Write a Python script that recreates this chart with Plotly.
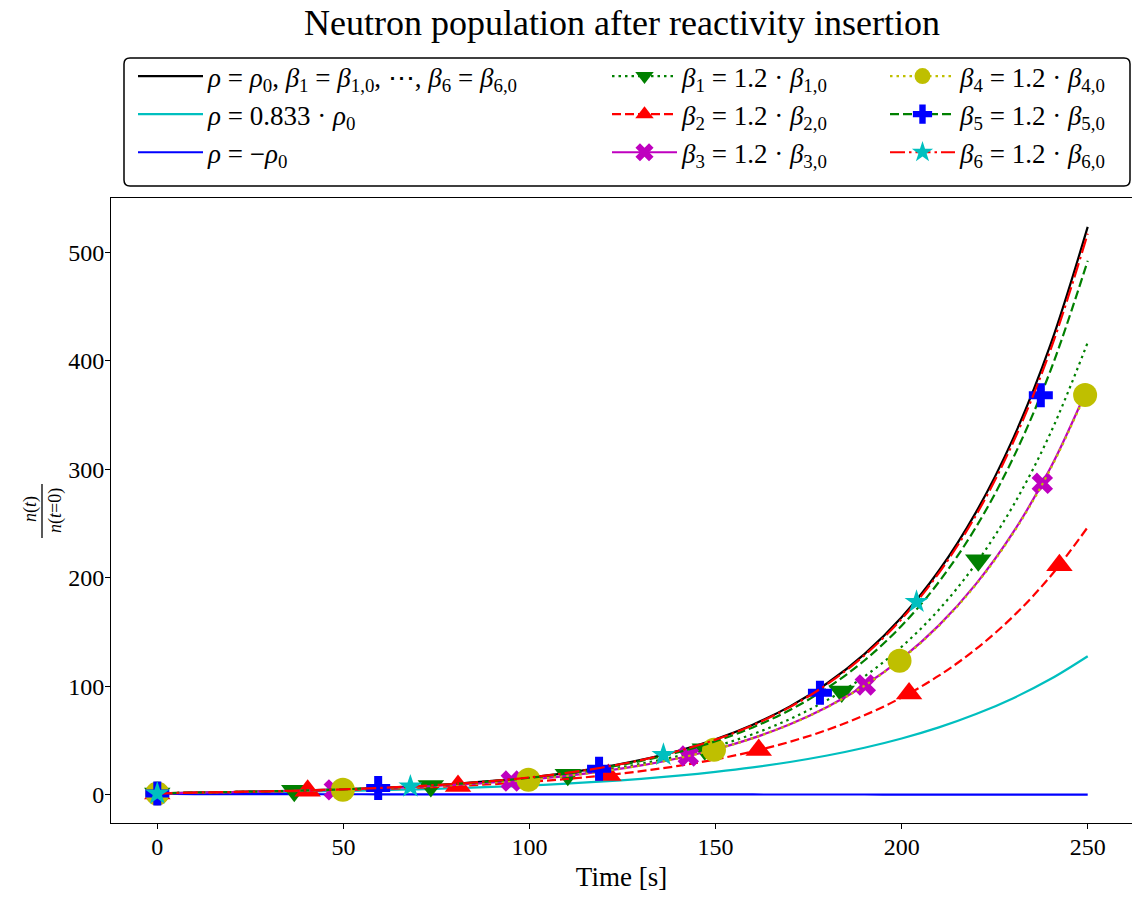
import plotly.graph_objects as go

# Relative neutron population n(t)/n(t=0), sampled every 10 s
t = [0, 10, 20, 30, 40, 50, 60, 70, 80, 90, 100, 110, 120, 130, 140, 150,
     160, 170, 180, 190, 200, 210, 220, 230, 240, 250]

n_ref = [1.0, 1.97, 2.48, 3.13, 3.96, 4.99, 6.30, 7.95, 10.03, 12.66, 15.97, 20.16,
         25.43, 32.10, 40.50, 51.11, 64.50, 81.39, 102.70, 129.60, 163.54, 206.37,
         260.42, 328.62, 414.69, 523.30]
n_rho083 = [1.0, 1.68, 2.01, 2.41, 2.88, 3.45, 4.14, 4.95, 5.93, 7.11, 8.51, 10.20,
            12.21, 14.63, 17.52, 20.99, 25.14, 30.12, 36.07, 43.21, 51.76, 61.99,
            74.26, 88.95, 106.54, 127.62]
n_rhoneg = [1.0, 0.52, 0.48, 0.45, 0.42, 0.39, 0.37, 0.34, 0.32, 0.30, 0.28, 0.26,
            0.24, 0.23, 0.21, 0.20, 0.19, 0.17, 0.16, 0.15, 0.14, 0.13, 0.12, 0.11,
            0.10, 0.10]
n_b1 = [1.0, 1.95, 2.44, 3.05, 3.81, 4.77, 5.96, 7.46, 9.33, 11.66, 14.58, 18.23,
        22.80, 28.51, 35.65, 44.58, 55.75, 69.71, 87.17, 109.01, 136.31, 170.45,
        213.14, 266.52, 333.27, 416.74]
n_b2 = [1.0, 1.91, 2.34, 2.86, 3.51, 4.29, 5.26, 6.44, 7.88, 9.65, 11.82, 14.47,
        17.72, 21.70, 26.57, 32.54, 39.84, 48.78, 59.73, 73.14, 89.56, 109.66,
        134.28, 164.42, 201.33, 246.53]
n_b3 = [1.0, 1.94, 2.42, 3.01, 3.75, 4.67, 5.82, 7.24, 9.02, 11.23, 13.98, 17.41,
        21.68, 26.99, 33.61, 41.85, 52.12, 64.89, 80.81, 100.62, 125.29, 156.01,
        194.27, 241.91, 301.22, 375.08]
n_b4 = [1.0, 1.94, 2.42, 3.01, 3.75, 4.67, 5.81, 7.24, 9.01, 11.20, 13.97, 17.39,
        21.65, 26.96, 33.56, 41.78, 52.02, 64.76, 80.63, 100.38, 124.97, 155.59,
        193.69, 241.13, 300.20, 373.70]
n_b5 = [1.0, 1.96, 2.47, 3.11, 3.92, 4.93, 6.21, 7.81, 9.83, 12.38, 15.58, 19.62,
        24.69, 31.09, 39.13, 49.26, 62.00, 78.05, 98.25, 123.68, 155.69, 195.98,
        246.70, 310.54, 390.91, 492.08]
n_b6 = [1.0, 1.97, 2.48, 3.13, 3.95, 4.98, 6.28, 7.92, 9.99, 12.60, 15.90, 20.05,
        25.29, 31.90, 40.23, 50.74, 64.00, 80.72, 101.81, 128.42, 161.97, 204.29,
        257.67, 325.00, 409.92, 517.03]

# Marker positions along the perturbed-beta curves
mk_t_b1 = [0, 36.8, 73.5, 110.3, 147.1, 183.9, 220.6]
mk_n_b1 = [1.0, 3.55, 8.06, 18.36, 41.8, 95.1, 216.0]
mk_t_b2 = [0, 40.4, 80.8, 121.2, 161.6, 202.0, 242.4]
mk_n_b2 = [1.0, 3.54, 8.01, 18.16, 41.15, 93.26, 211.4]
mk_t_b3 = [0, 47.56, 95.12, 142.68, 190.24, 237.8]
mk_n_b3 = [1.0, 4.43, 12.56, 35.65, 101.15, 287.0]
mk_t_b4 = [0, 49.86, 99.72, 149.58, 199.44, 249.3]
mk_n_b4 = [1.0, 4.64, 13.85, 41.34, 123.4, 368.3]
mk_t_b5 = [0, 59.35, 118.7, 178.05, 237.4]
mk_n_b5 = [1.0, 6.11, 23.97, 93.94, 368.2]
mk_t_b6 = [0, 68.0, 136.0, 204.0]
mk_n_b6 = [1.0, 7.56, 36.66, 177.7]

x_ticks = [0, 50, 100, 150, 200, 250]
y_ticks = [0, 100, 200, 300, 400, 500]

SERIF = "Liberation Serif"
W, H = 1132, 898
ML, MR, MT, MB = 111, 0, 198, 75
PW, PH = W - ML - MR, H - MT - MB


def px_x(x):
    return (x - ML) / PW


def px_y(y):
    return (H - MB - y) / PH


def b(i):
    return f"<i>β</i><sub>{i}</sub> = 1.2 · <i>β</i><sub>{i},0</sub>"


def gapped(xs, ys):
    gx, gy = [], []
    for a, c in zip(xs, ys):
        gx += [a, None]
        gy += [c, None]
    return gx, gy


LW = 2.2
DASH = "9px,4px"
DOT = "2.5px,4px"
DASHDOT = "15px,4px,2.5px,4px"

fig = go.Figure()

plain = [
    (n_ref, "black",
     "<i>ρ</i> = <i>ρ</i><sub>0</sub>, <i>β</i><sub>1</sub> = <i>β</i><sub>1,0</sub>, ⋯, "
     "<i>β</i><sub>6</sub> = <i>β</i><sub>6,0</sub>"),
    (n_rho083, "#00bfbf", "<i>ρ</i> = 0.833 · <i>ρ</i><sub>0</sub>"),
    (n_rhoneg, "#0000ff", "<i>ρ</i> = −<i>ρ</i><sub>0</sub>"),
]
for k, (ys, col, name) in enumerate(plain):
    fig.add_trace(go.Scatter(
        x=t, y=ys, mode="lines", name=name, legend="legend",
        legendgroup=f"p{k}", line=dict(color=col, width=LW, shape="spline"),
    ))

# (values, marker t, marker n, line colour, dash, symbol, size, marker colour, index)
betas = [
    (n_b1, mk_t_b1, mk_n_b1, "#008000", DOT, "triangle-down", 23, "#008000", 1),
    (n_b2, mk_t_b2, mk_n_b2, "#ff0000", DASH, "triangle-up", 23, "#ff0000", 2),
    (n_b3, mk_t_b3, mk_n_b3, "#bf00bf", "solid", "x", 19, "#bf00bf", 3),
    (n_b4, mk_t_b4, mk_n_b4, "#bfbf00", DOT, "circle", 24, "#bfbf00", 4),
    (n_b5, mk_t_b5, mk_n_b5, "#008000", DASH, "cross", 20, "#0000ff", 5),
    (n_b6, mk_t_b6, mk_n_b6, "#ff0000", DASHDOT, "star", 18, "#00bfbf", 6),
]
for ys, mt, mn, col, dash, sym, size, mcol, i in betas:
    leg = "legend2" if i <= 3 else "legend3"
    fig.add_trace(go.Scatter(
        x=t, y=ys, mode="lines", showlegend=False, legendgroup=f"b{i}",
        line=dict(color=col, width=LW, dash=dash, shape="spline"),
        hoverinfo="skip",
    ))
    gx, gy = gapped(mt, mn)
    fig.add_trace(go.Scatter(
        x=gx, y=gy, mode="lines+markers", name=b(i), legend=leg,
        legendgroup=f"b{i}", connectgaps=False,
        line=dict(color=col, width=LW, dash=dash),
        marker=dict(symbol=sym, size=size, color=mcol, line=dict(width=0)),
    ))

legend_common = dict(
    bgcolor="rgba(0,0,0,0)", borderwidth=0, font=dict(family=SERIF, size=27, color="black"),
    orientation="v", xanchor="left", yanchor="top", itemwidth=65, tracegroupgap=0,
    itemclick=False, itemdoubleclick=False,
)
legend_top = px_y(52)
fig.update_layout(
    legend=dict(x=px_x(133), y=legend_top, **legend_common),
    legend2=dict(x=px_x(607), y=legend_top, **legend_common),
    legend3=dict(x=px_x(885), y=legend_top, **legend_common),
)

# Rounded frame around the three legend columns
x0, x1, y0, y1, r = 124, 1130, 58, 186, 6
pts = [
    ("M", x0 + r, y0), ("L", x1 - r, y0), ("Q", x1, y0, x1, y0 + r),
    ("L", x1, y1 - r), ("Q", x1, y1, x1 - r, y1), ("L", x0 + r, y1),
    ("Q", x0, y1, x0, y1 - r), ("L", x0, y0 + r), ("Q", x0, y0, x0 + r, y0),
]
path = ""
for p in pts:
    cmd, vals = p[0], p[1:]
    coords = []
    for j in range(0, len(vals), 2):
        coords.append(f"{px_x(vals[j]):.5f},{px_y(vals[j + 1]):.5f}")
    path += cmd + " ".join(coords) + " "
fig.add_shape(type="path", path=path.strip() + " Z", xref="paper", yref="paper",
              line=dict(color="black", width=1.5), fillcolor="rgba(0,0,0,0)")

# y-axis label as a stacked fraction n(t) / n(t=0)
frac_font = dict(family=SERIF, size=18, color="black")
fig.add_annotation(text="<i>n</i>(<i>t</i>)", xref="paper", yref="paper",
                   x=px_x(30), y=px_y(509), xanchor="center", yanchor="middle",
                   textangle=-90, showarrow=False, font=frac_font)
fig.add_annotation(text="<i>n</i>(<i>t</i>=0)", xref="paper", yref="paper",
                   x=px_x(55), y=px_y(511), xanchor="center", yanchor="middle",
                   textangle=-90, showarrow=False, font=frac_font)
fig.add_shape(type="line", xref="paper", yref="paper",
              x0=px_x(42), x1=px_x(42), y0=px_y(484), y1=px_y(538),
              line=dict(color="black", width=1.3))

axis_common = dict(
    showgrid=False, zeroline=False, showline=True, linecolor="black", linewidth=1.1,
    ticks="outside", ticklen=5, tickwidth=1, tickcolor="black",
    tickfont=dict(family=SERIF, size=24, color="black"),
)
fig.update_xaxes(range=[-12.44, 261.9], tickvals=x_ticks, mirror=True,
                 ticklabelstandoff=-3,
                 title=dict(text="Time [s]", font=dict(family=SERIF, size=27, color="black"),
                            standoff=8),
                 **axis_common)
fig.update_yaxes(range=[-26.1, 549.9], tickvals=y_ticks, mirror=False,
                 ticklabelstandoff=-4, **axis_common)

fig.update_layout(
    width=W, height=H,
    margin=dict(l=ML, r=MR, t=MT, b=MB),
    paper_bgcolor="white", plot_bgcolor="white",
    title=dict(text="Neutron population after reactivity insertion",
               x=px_x(622), xref="paper", y=1 - 22 / H, yref="container",
               xanchor="center", yanchor="middle",
               font=dict(family=SERIF, size=36, color="black")),
    showlegend=True,
)

fig.write_html("out.html")
